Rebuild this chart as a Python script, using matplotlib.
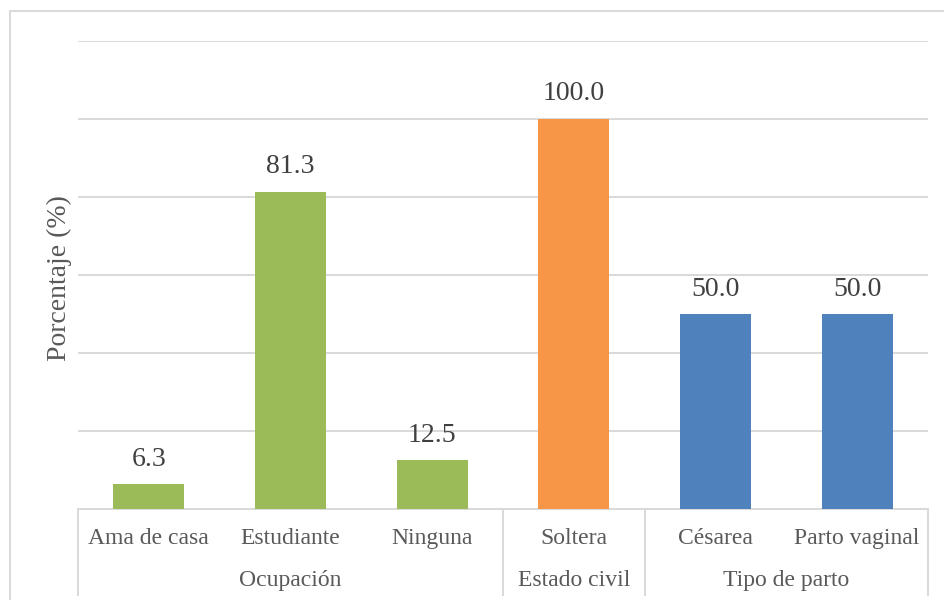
#!/usr/bin/env python3
"""Bar chart of percentages by occupation, marital status and delivery type."""

import matplotlib
matplotlib.use("Agg")
import matplotlib.pyplot as plt
from matplotlib.patches import Rectangle
from matplotlib.transforms import blended_transform_factory

CATEGORIES = ["Ama de casa", "Estudiante", "Ninguna", "Soltera", "Césarea", "Parto vaginal"]
VALUES = [6.3, 81.3, 12.5, 100.0, 50.0, 50.0]
GROUPS = ["Ocupación", "Estado civil", "Tipo de parto"]
GROUP_SIZES = [3, 1, 2]
GROUP_COLOURS = ["#9BBB59", "#F79646", "#4F81BD"]

TEXT = "#595959"
GRID = "#D9D9D9"

plt.rcParams["font.family"] = ["Liberation Serif", "DejaVu Serif"]

fig = plt.figure(figsize=(9.45, 6.0), dpi=100)
ax = fig.add_axes([78 / 945, 1 - 509 / 600, 850 / 945, 468 / 600])

# one colour per group
colours = []
for colour, size in zip(GROUP_COLOURS, GROUP_SIZES):
    colours += [colour] * size

x = list(range(len(CATEGORIES)))
bars = ax.bar(x, VALUES, width=0.5, color=colours, zorder=3)
for rect, v in zip(bars, VALUES):
    ax.annotate(f"{v:.1f}", (rect.get_x() + rect.get_width() / 2, v),
                xytext=(0, 9), textcoords="offset points",
                ha="center", va="bottom", fontsize=20, color="#404040")

ax.set_xlim(-0.5, len(CATEGORIES) - 0.5)
ax.set_ylim(0, 120)
ax.set_yticks(range(0, 121, 20))
ax.yaxis.grid(True, color=GRID, linewidth=1.4, zorder=0)
ax.tick_params(left=False, labelleft=False, bottom=False, labelbottom=False)
for side in ("left", "right", "top"):
    ax.spines[side].set_visible(False)
ax.spines["bottom"].set_color(GRID)
ax.spines["bottom"].set_linewidth(1.4)

# two-level category axis
tr = blended_transform_factory(ax.transData, ax.transAxes)
for i, name in enumerate(CATEGORIES):
    ax.text(i, -0.062, name, transform=tr, ha="center", va="center",
            fontsize=17, color=TEXT)

start = 0
bounds = [-0.5]
for name, size in zip(GROUPS, GROUP_SIZES):
    centre = start + (size - 1) / 2
    ax.text(centre, -0.152, name, transform=tr, ha="center", va="center",
            fontsize=17, color=TEXT)
    start += size
    bounds.append(start - 0.5)
for b in bounds:
    ax.plot([b, b], [0, -0.184], transform=tr, color=GRID, linewidth=1.4,
            clip_on=False)

fig.text(59 / 945, 1 - 278 / 600, "Porcentaje (%)", rotation=90,
         ha="center", va="center", fontsize=20, color=TEXT)

# chart-area border
fig.patches.append(Rectangle((10 / 945, -0.05), 1.2, 1.05 - 11 / 600,
                             transform=fig.transFigure, fill=False,
                             edgecolor=GRID, linewidth=1.4))

fig.savefig("out.png", dpi=100)
